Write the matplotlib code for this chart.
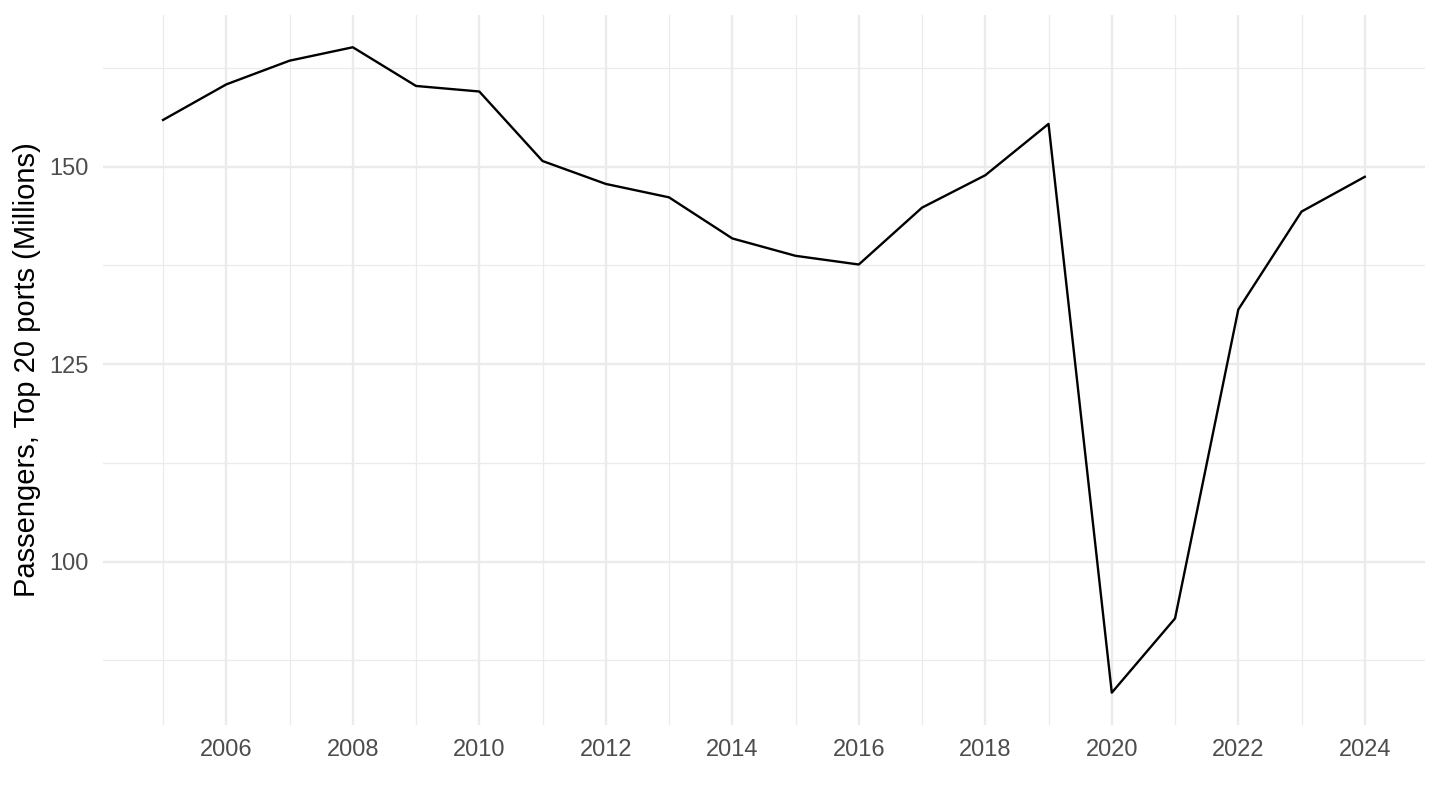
import matplotlib.pyplot as plt
import numpy as np

# passengers through the top 20 ports, millions
years = np.arange(2005, 2025)
passengers = [155.9, 160.4, 163.4, 165.1, 160.2, 159.5, 150.7, 147.8, 146.1, 140.9,
              138.7, 137.6, 144.8, 148.9, 155.4, 83.4, 92.8, 131.9, 144.3, 148.7]

x_ticks = [2006, 2008, 2010, 2012, 2014, 2016, 2018, 2020, 2022, 2024]
y_ticks = [100, 125, 150]

plt.rcParams['font.family'] = ['Liberation Sans', 'DejaVu Sans']

fig = plt.figure(figsize=(14.4, 8.1), dpi=100)
ax = fig.add_axes([0.0715, 0.105, 0.918, 0.8765])

ax.plot(years, passengers, color='black', lw=1.7, zorder=3)

ax.set_xlim(2005 - 0.95, 2024 + 0.95)
lo, hi = min(passengers), max(passengers)
pad = (hi - lo) * 0.05
ax.set_ylim(lo - pad, hi + pad)

ax.set_xticks(x_ticks)
ax.set_xticks(np.arange(2005, 2025, 2), minor=True)
ax.set_yticks(y_ticks)
ax.set_yticks([87.5, 112.5, 137.5, 162.5], minor=True)

ax.grid(which='major', color='#ebebeb', lw=1.7)
ax.grid(which='minor', color='#ebebeb', lw=0.9)
ax.set_axisbelow(True)
for s in ax.spines.values():
    s.set_visible(False)
ax.tick_params(which='both', length=0, labelsize=17, colors='#4d4d4d')
ax.tick_params(axis='y', pad=10)
ax.tick_params(axis='x', pad=10)

ax.set_ylabel('Passengers, Top 20 ports (Millions)', fontsize=21, color='black', labelpad=6)

fig.savefig('out.png', dpi=100)
